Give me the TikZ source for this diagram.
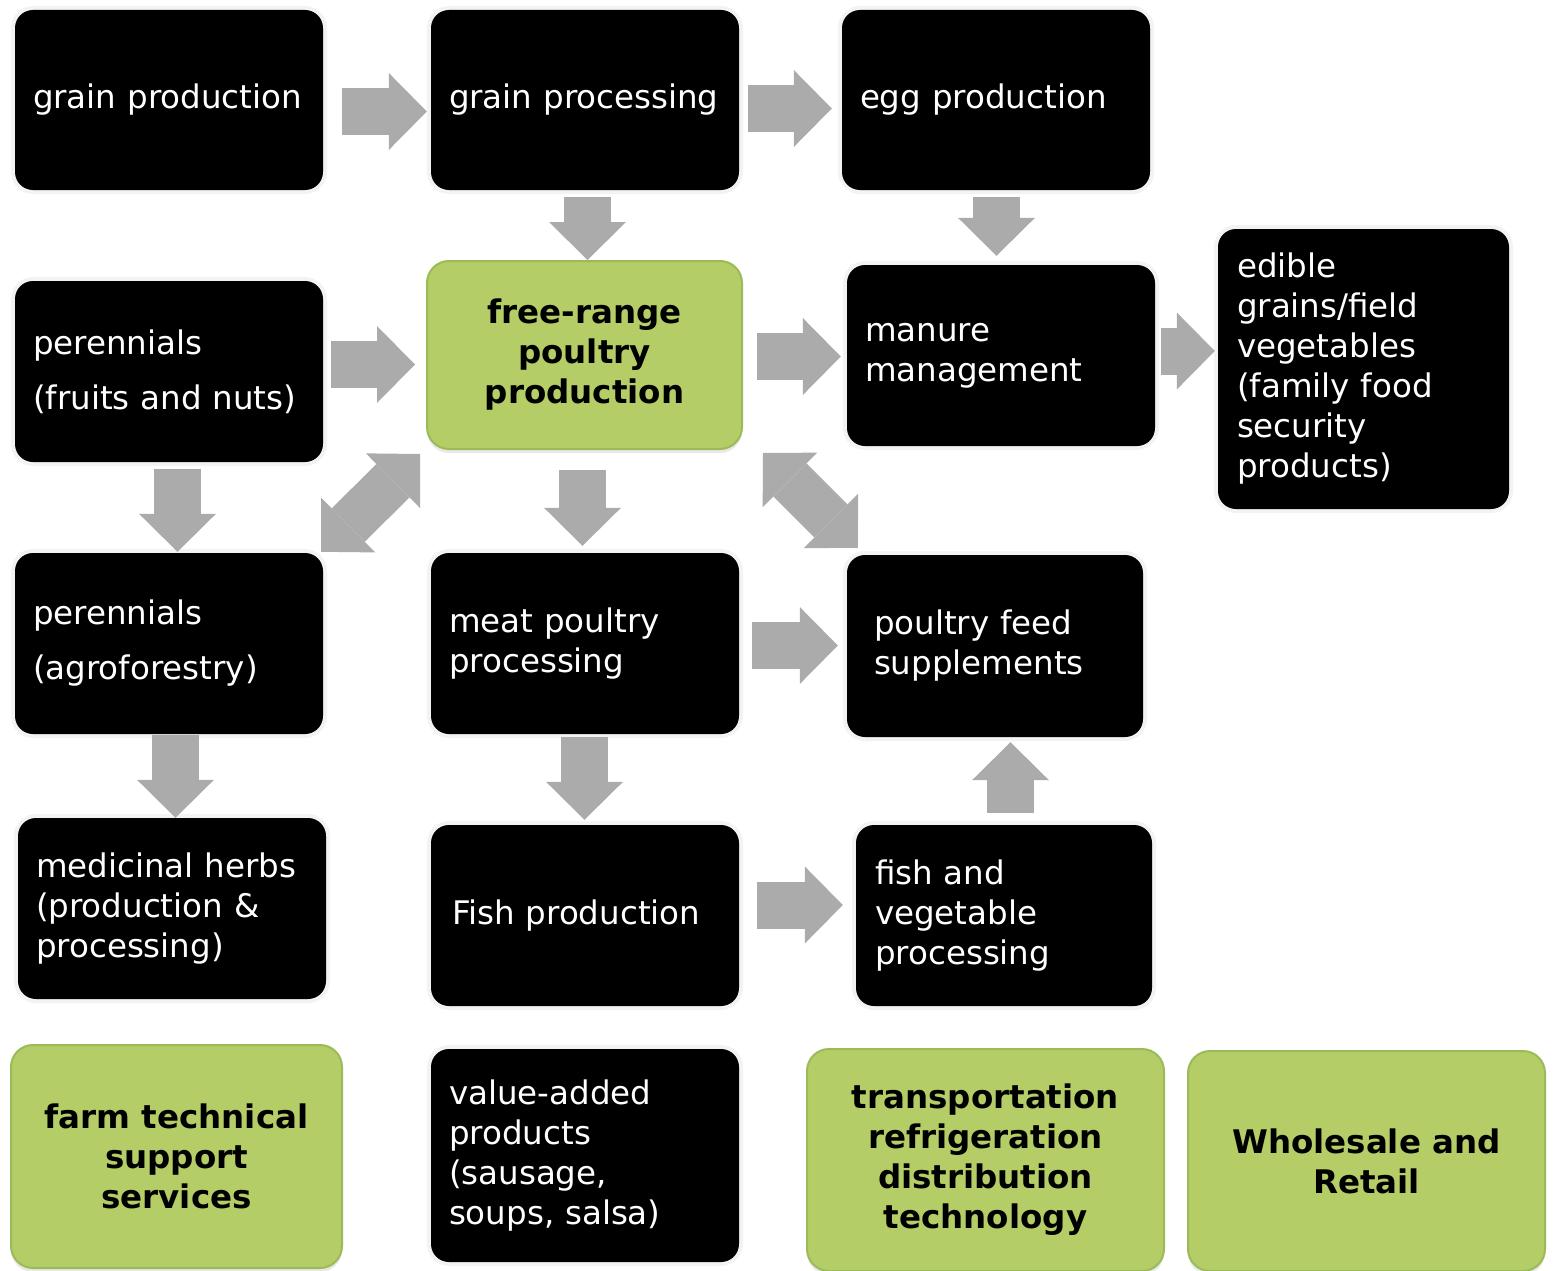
\documentclass[tikz,border=0pt]{standalone}
\usepackage{fontspec}
\setmainfont{DejaVu Sans}
\usetikzlibrary{calc, positioning, arrows.meta, shadows}

\definecolor{arrowgray}{RGB}{171,171,171}
\definecolor{leafgreen}{RGB}{181,205,102}
\definecolor{leafline}{RGB}{155,187,89}
\definecolor{ringgray}{RGB}{243,243,243}
\hyphenpenalty=10000
\exhyphenpenalty=10000

\begin{document}
\begin{tikzpicture}[x=1pt, y=-1pt,
    blackbox/.style={rectangle, rounded corners=18pt, fill=black, text=white,
        preaction={draw=ringgray, line width=8pt},
        minimum width=308pt, minimum height=181pt, text width=272pt,
        inner xsep=18pt, align=left, font=\fontsize{32.5}{40}\selectfont},
    greenbox/.style={rectangle, rounded corners=22pt, fill=leafgreen, draw=leafline,
        line width=2pt, align=center, font=\bfseries\fontsize{32.5}{40}\selectfont,
        drop shadow={opacity=0.18, shadow xshift=0pt, shadow yshift=-4pt}},
    flow/.style={draw=arrowgray, line width=47pt, -{Triangle[length=38pt, width=77pt, line width=0pt]}},
    twoway/.style={draw=arrowgray, line width=47pt,
        {Triangle[length=38pt, width=77pt, line width=0pt]}-{Triangle[length=38pt, width=77pt, line width=0pt]}}]

    \useasboundingbox (0,0) rectangle (1553,1271);

    % top row
    \node[blackbox, minimum height=180pt] (gprod) at (169,100) {grain production};
    \node[blackbox, minimum height=180pt] (gproc) at (585,100) {grain processing};
    \node[blackbox, minimum height=180pt] (egg) at (996,100) {egg production};

    % second row
    \node[blackbox] (fruit) at (169,371.5) {perennials\\[15pt](fruits and nuts)};
    \node[greenbox, minimum width=315pt, minimum height=188pt] (poultry) at (584.5,355) {free-range\\poultry\\production};
    \node[blackbox] (manure) at (1001,355.5) {manure\\management};
    \node[blackbox, minimum width=291pt, minimum height=280pt, text width=253pt] (edible) at (1363.5,369)
        {edible\\grains/field\\vegetables\\(family food\\security\\products)};

    % third row
    \node[blackbox] (agro) at (169,643.5) {perennials\\[15pt](agroforestry)};
    \node[blackbox] (meat) at (585,643.5) {meat poultry\\processing};
    \node[blackbox, minimum width=296pt, minimum height=182pt, text width=242pt] (feed) at (995,646)
        {poultry feed\\supplements};

    % fourth row
    \node[blackbox] (herbs) at (172,908.5) {medicinal herbs\\(production \&\\processing)};
    \node[blackbox, text width=266pt] (fish) at (585,915.5) {Fish production};
    \node[blackbox, minimum width=296pt, text width=258pt] (fishveg) at (1004,915.5)
        {fish and\\vegetable\\processing};

    % bottom row
    \node[greenbox, minimum width=331pt, minimum height=223pt] (support) at (176.5,1156.5)
        {farm technical\\support\\services};
    \node[blackbox, minimum height=213pt] (valueadd) at (585,1155.5)
        {value-added\\products\\(sausage,\\soups, salsa)};
    \node[greenbox, minimum width=357pt, minimum height=222pt] (transport) at (985.5,1160)
        {transportation\\refrigeration\\distribution\\technology};
    \node[greenbox, minimum width=357pt, minimum height=220pt] (retail) at (1366.5,1161)
        {Wholesale and\\Retail};

    % block arrows
    \draw[flow] ($(gprod.east)+(19,11.5)$) -- ($(gproc.west)+(-4,11.5)$);
    \draw[flow] ($(gproc.east)+(9,8.5)$) -- ($(egg.west)+(-10,8.5)$);
    \draw[flow] ($(gproc.south)+(2.5,7)$) -- ($(poultry.north)+(3,0)$);
    \draw[flow] ($(egg.south)+(0.5,7)$) -- ($(manure.north)+(-4.5,-9)$);
    \draw[flow] ($(fruit.east)+(8,-7)$) -- ($(poultry.west)+(-11,9.5)$);
    \draw[flow] ($(poultry.east)+(14,1.5)$) -- ($(manure.west)+(-6,1)$);
    \draw[flow] ($(manure.east)+(6,-4.5)$) -- ($(edible.west)+(-3,-18)$);
    \draw[flow] ($(fruit.south)+(8.5,7)$) -- ($(agro.north)+(8.5,-1)$);
    \draw[flow] ($(poultry.south)+(-2,20)$) -- ($(meat.north)+(-2.5,-7)$);
    \draw[twoway] ($(agro.north east)+(-2,-1)$) -- ($(poultry.south west)+(-6,4)$);
    \draw[twoway] ($(poultry.south east)+(20,3)$) -- ($(feed.north west)+(11,-7)$);
    \draw[flow] ($(meat.east)+(13,2)$) -- ($(feed.west)+(-9,-0.5)$);
    \draw[flow] ($(agro.south)+(6.5,1)$) -- ($(herbs.north)+(3.5,0)$);
    \draw[flow] ($(meat.south)+(-0.5,3)$) -- ($(fish.north)+(-0.5,-5)$);
    \draw[flow] ($(fish.east)+(18,-10.5)$) -- ($(fishveg.west)+(-13,-10.5)$);
    \draw[flow] ($(fishveg.north)+(6.5,-12)$) -- ($(feed.south)+(15.5,5)$);
\end{tikzpicture}
\end{document}
